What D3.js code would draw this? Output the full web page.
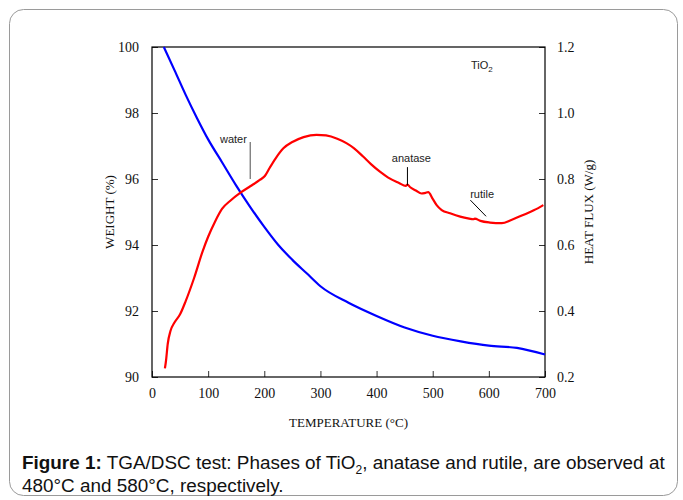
<!DOCTYPE html>
<html>
<head>
<meta charset="utf-8">
<script src="https://cdn.jsdelivr.net/npm/d3@7"></script>
<style>
  body { margin: 0; background: #fff; }
  svg { display: block; }
</style>
</head>
<body>
<div id="chart"></div>
<script>
// weight loss (TGA), %
const weightTemp = [21, 40, 60, 80, 100, 125, 150, 175, 200, 225, 250, 275, 300, 350, 400, 450, 500, 550, 600, 650, 700];
const weightVals = [100.0, 99.3, 98.55, 97.85, 97.2, 96.5, 95.8, 95.15, 94.55, 94.0, 93.55, 93.15, 92.75, 92.25, 91.85, 91.5, 91.25, 91.08, 90.95, 90.88, 90.68];

// heat flux (DSC), W/g
const heatTemp = [23, 25, 28, 33, 40, 50, 60, 75, 90, 100, 112, 125, 140, 157, 175, 192, 201, 210, 220, 234, 250, 270, 293, 310, 330, 347, 360, 376, 390, 406, 420, 440, 452, 455, 460, 470, 480, 487, 492, 500, 507, 516, 531, 549, 565, 572, 575, 585, 602, 623, 640, 661, 680, 697];
const heatVals = [0.226, 0.25, 0.30, 0.34, 0.365, 0.39, 0.43, 0.50, 0.58, 0.625, 0.67, 0.71, 0.735, 0.758, 0.778, 0.797, 0.809, 0.835, 0.862, 0.893, 0.912, 0.927, 0.934, 0.932, 0.922, 0.908, 0.893, 0.868, 0.845, 0.822, 0.805, 0.788, 0.779, 0.783, 0.775, 0.765, 0.756, 0.758, 0.760, 0.74, 0.721, 0.706, 0.696, 0.686, 0.680, 0.678, 0.680, 0.673, 0.668, 0.666, 0.676, 0.691, 0.705, 0.721];

const xTicks = [0, 100, 200, 300, 400, 500, 600, 700];
const leftTicks = [90, 92, 94, 96, 98, 100];
const rightTicks = [0.2, 0.4, 0.6, 0.8, 1.0, 1.2];

const W = 683, H = 500;
const margin = { top: 47, right: 138, bottom: 123, left: 152 },
  width = W - margin.left - margin.right,
  height = H - margin.top - margin.bottom;

const svg = d3.select("#chart").append("svg")
  .attr("width", W)
  .attr("height", H);

// rounded frame around figure
svg.append("rect")
  .attr("x", 9.5).attr("y", 9.5)
  .attr("width", 668).attr("height", 486)
  .attr("rx", 14)
  .attr("fill", "none")
  .attr("stroke", "#9a9a9a")
  .attr("stroke-width", 1);

const g = svg.append("g")
  .attr("transform", "translate(" + margin.left + "," + margin.top + ")");

const x = d3.scaleLinear().domain([0, 700]).range([0, width]);
const yW = d3.scaleLinear().domain([90, 100]).range([height, 0]);
const yH = d3.scaleLinear().domain([0.2, 1.2]).range([height, 0]);

const serif = "'Liberation Serif', 'Times New Roman', serif";
const sans = "'Liberation Sans', Arial, sans-serif";

function styleAxis(sel) {
  sel.select(".domain").remove();
  sel.selectAll(".tick line").attr("stroke", "#333");
  sel.selectAll(".tick text")
    .attr("font-family", serif)
    .attr("font-size", 14)
    .attr("fill", "#111");
}

g.append("g")
  .attr("transform", "translate(0," + height + ")")
  .call(d3.axisBottom(x).tickValues(xTicks).tickSize(-6).tickPadding(11).tickFormat(d3.format("d")))
  .call(styleAxis);

g.append("g")
  .call(d3.axisLeft(yW).tickValues(leftTicks).tickSize(-6).tickPadding(13).tickFormat(d3.format("d")))
  .call(styleAxis);

g.append("g")
  .attr("transform", "translate(" + width + ",0)")
  .call(d3.axisRight(yH).tickValues(rightTicks).tickSize(-6).tickPadding(12).tickFormat(d3.format(".1f")))
  .call(styleAxis);

// frame
g.append("rect")
  .attr("width", width).attr("height", height)
  .attr("fill", "none")
  .attr("stroke", "#000")
  .attr("stroke-width", 1.2);

const weightLine = d3.line()
  .x((d, i) => x(weightTemp[i]))
  .y(d => yW(d))
  .curve(d3.curveMonotoneX);

const heatLine = d3.line()
  .x((d, i) => x(heatTemp[i]))
  .y(d => yH(d))
  .curve(d3.curveMonotoneX);

g.append("path")
  .datum(weightVals)
  .attr("d", weightLine)
  .attr("fill", "none")
  .attr("stroke", "#0000ff")
  .attr("stroke-width", 2.2);

g.append("path")
  .datum(heatVals)
  .attr("d", heatLine)
  .attr("fill", "none")
  .attr("stroke", "#ff0000")
  .attr("stroke-width", 2.2);

// annotations
const ann = g.append("g").attr("font-family", sans).attr("font-size", 11).attr("fill", "#222");

ann.append("text").attr("x", x(169)).attr("y", yH(0.909)).attr("text-anchor", "end").text("water");
ann.append("line")
  .attr("x1", x(175)).attr("x2", x(175))
  .attr("y1", yH(0.912)).attr("y2", yH(0.80))
  .attr("stroke", "#777").attr("stroke-width", 1.3);

ann.append("text").attr("x", x(462)).attr("y", yH(0.852)).attr("text-anchor", "middle").text("anatase");
ann.append("line")
  .attr("x1", x(455)).attr("x2", x(455))
  .attr("y1", yH(0.836)).attr("y2", yH(0.781))
  .attr("stroke", "#000").attr("stroke-width", 1);

ann.append("text").attr("x", x(588)).attr("y", yH(0.742)).attr("text-anchor", "middle").text("rutile");
ann.append("line")
  .attr("x1", x(567)).attr("x2", x(595))
  .attr("y1", yH(0.736)).attr("y2", yH(0.687))
  .attr("stroke", "#000").attr("stroke-width", 1);

const tio = ann.append("text").attr("x", x(568)).attr("y", yH(1.133));
tio.append("tspan").text("TiO");
tio.append("tspan").attr("font-size", 8).attr("dy", 3).text("2");

// axis titles
svg.append("text")
  .attr("transform", "translate(114," + (margin.top + height / 2) + ") rotate(-90)")
  .attr("text-anchor", "middle")
  .attr("font-family", serif).attr("font-size", 13).attr("fill", "#111")
  .text("WEIGHT (%)");

svg.append("text")
  .attr("transform", "translate(593," + (margin.top + height / 2) + ") rotate(-90)")
  .attr("text-anchor", "middle")
  .attr("font-family", serif).attr("font-size", 13).attr("fill", "#111")
  .text("HEAT FLUX (W/g)");

svg.append("text")
  .attr("x", margin.left + width / 2).attr("y", 427)
  .attr("text-anchor", "middle")
  .attr("font-family", serif).attr("font-size", 13).attr("fill", "#111")
  .text("TEMPERATURE (°C)");

// caption
const cap = svg.append("g").attr("font-family", sans).attr("font-size", 18.9).attr("fill", "#111");
const l1 = cap.append("text").attr("x", 22).attr("y", 469);
l1.append("tspan").attr("font-weight", "bold").text("Figure 1:");
l1.append("tspan").text(" TGA/DSC test: Phases of TiO");
l1.append("tspan").attr("font-size", 12).attr("dy", 5).text("2");
l1.append("tspan").attr("dy", -5).text(", anatase and rutile, are observed at");
cap.append("text").attr("x", 22).attr("y", 492).text("480°C and 580°C, respectively.");
</script>
</body>
</html>
